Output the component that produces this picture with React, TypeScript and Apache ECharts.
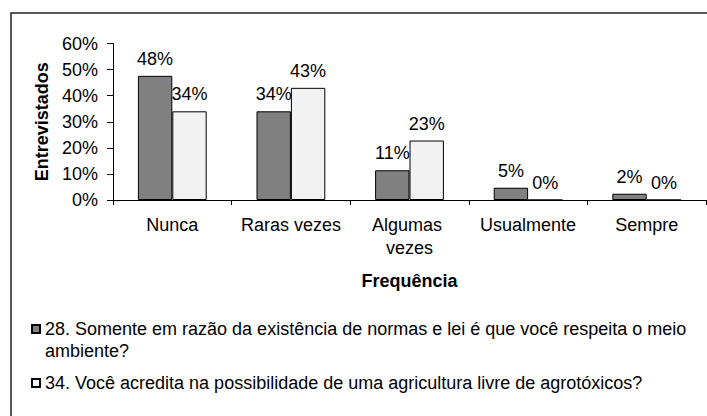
import React, { useEffect, useRef } from "react";
import * as echarts from "echarts";

const categories = ["Nunca", "Raras vezes", "Algumas vezes", "Usualmente", "Sempre"];
const seriesNames = [
  "28. Somente em razão da existência de normas e lei é que você respeita o meio ambiente?",
  "34. Você acredita na possibilidade de uma agricultura livre de agrotóxicos?",
];
const series28 = [47.6, 34, 11.4, 4.7, 2.4];
const series34 = [34, 43, 22.8, 0, 0];
const yTicks = { min: 0, max: 60, interval: 10 };

const FONT = "'Liberation Sans', Arial, sans-serif";
const FS = 18;

export default function App() {
  const ref = useRef<HTMLDivElement>(null);
  useEffect(() => {
    if (!ref.current) return;
    const chart = echarts.init(ref.current, undefined, { renderer: "svg" });
    const labelStyle = {
      show: true,
      position: "top" as const,
      distance: 8,
      color: "#000",
      fontSize: FS,
      fontFamily: FONT,
      formatter: (p: any) => Math.round(p.value) + "%",
    };
    chart.setOption({
      animation: false,
      backgroundColor: "#fff",
      textStyle: { fontFamily: FONT, color: "#000" },
      graphic: [
        {
          type: "rect",
          z: -1,
          shape: { x: 11, y: 13, width: 800, height: 500 },
          style: { fill: "none", stroke: "#222", lineWidth: 1.5 },
        },
      ],
      grid: { left: 113, right: 1, top: 43.5, bottom: 216, containLabel: false },
      xAxis: {
        type: "category",
        data: categories,
        name: "Frequência",
        nameLocation: "middle",
        nameGap: 72,
        nameTextStyle: { fontSize: FS, fontWeight: "bold", color: "#000", fontFamily: FONT },
        axisLine: { lineStyle: { color: "#000", width: 1 } },
        axisTick: { show: true, length: 5, lineStyle: { color: "#000" } },
        axisLabel: {
          interval: 0,
          margin: 13,
          fontSize: FS,
          lineHeight: 23,
          color: "#000",
          fontFamily: FONT,
          width: 110,
          overflow: "break",
        },
      },
      yAxis: {
        type: "value",
        min: yTicks.min,
        max: yTicks.max,
        interval: yTicks.interval,
        name: "Entrevistados",
        nameLocation: "middle",
        nameGap: 61,
        nameTextStyle: { fontSize: FS, fontWeight: "bold", color: "#000", fontFamily: FONT },
        axisLine: { show: true, lineStyle: { color: "#000", width: 1 } },
        axisTick: { show: true, length: 6, lineStyle: { color: "#000" } },
        splitLine: { show: false },
        axisLabel: {
          margin: 15,
          fontSize: FS,
          color: "#000",
          fontFamily: FONT,
          formatter: "{value}%",
        },
      },
      legend: {
        orient: "vertical",
        left: 31,
        top: 296,
        padding: 0,
        itemGap: 10,
        itemWidth: 8,
        itemHeight: 8,
        icon: "rect",
        selectedMode: false,
        textStyle: { fontSize: FS, lineHeight: 22, color: "#000", fontFamily: FONT },
        formatter: (name: string) =>
          name === seriesNames[0] ? "\n" + name.replace(" ambiente?", "\nambiente?") : name,
        data: seriesNames,
      },
      series: [
        {
          name: seriesNames[0],
          type: "bar",
          data: series28,
          barGap: "0%",
          barCategoryGap: "42%",
          itemStyle: { color: "#808080", borderColor: "#000", borderWidth: 1 },
          label: labelStyle,
        },
        {
          name: seriesNames[1],
          type: "bar",
          data: series34,
          barGap: "0%",
          barCategoryGap: "42%",
          itemStyle: { color: "#f2f2f2", borderColor: "#000", borderWidth: 1 },
          label: labelStyle,
        },
      ],
    });
    return () => chart.dispose();
  }, []);
  return (
    <div
      ref={ref}
      style={{ position: "fixed", left: 0, top: 0, width: 707, height: 416, background: "#fff" }}
    />
  );
}
